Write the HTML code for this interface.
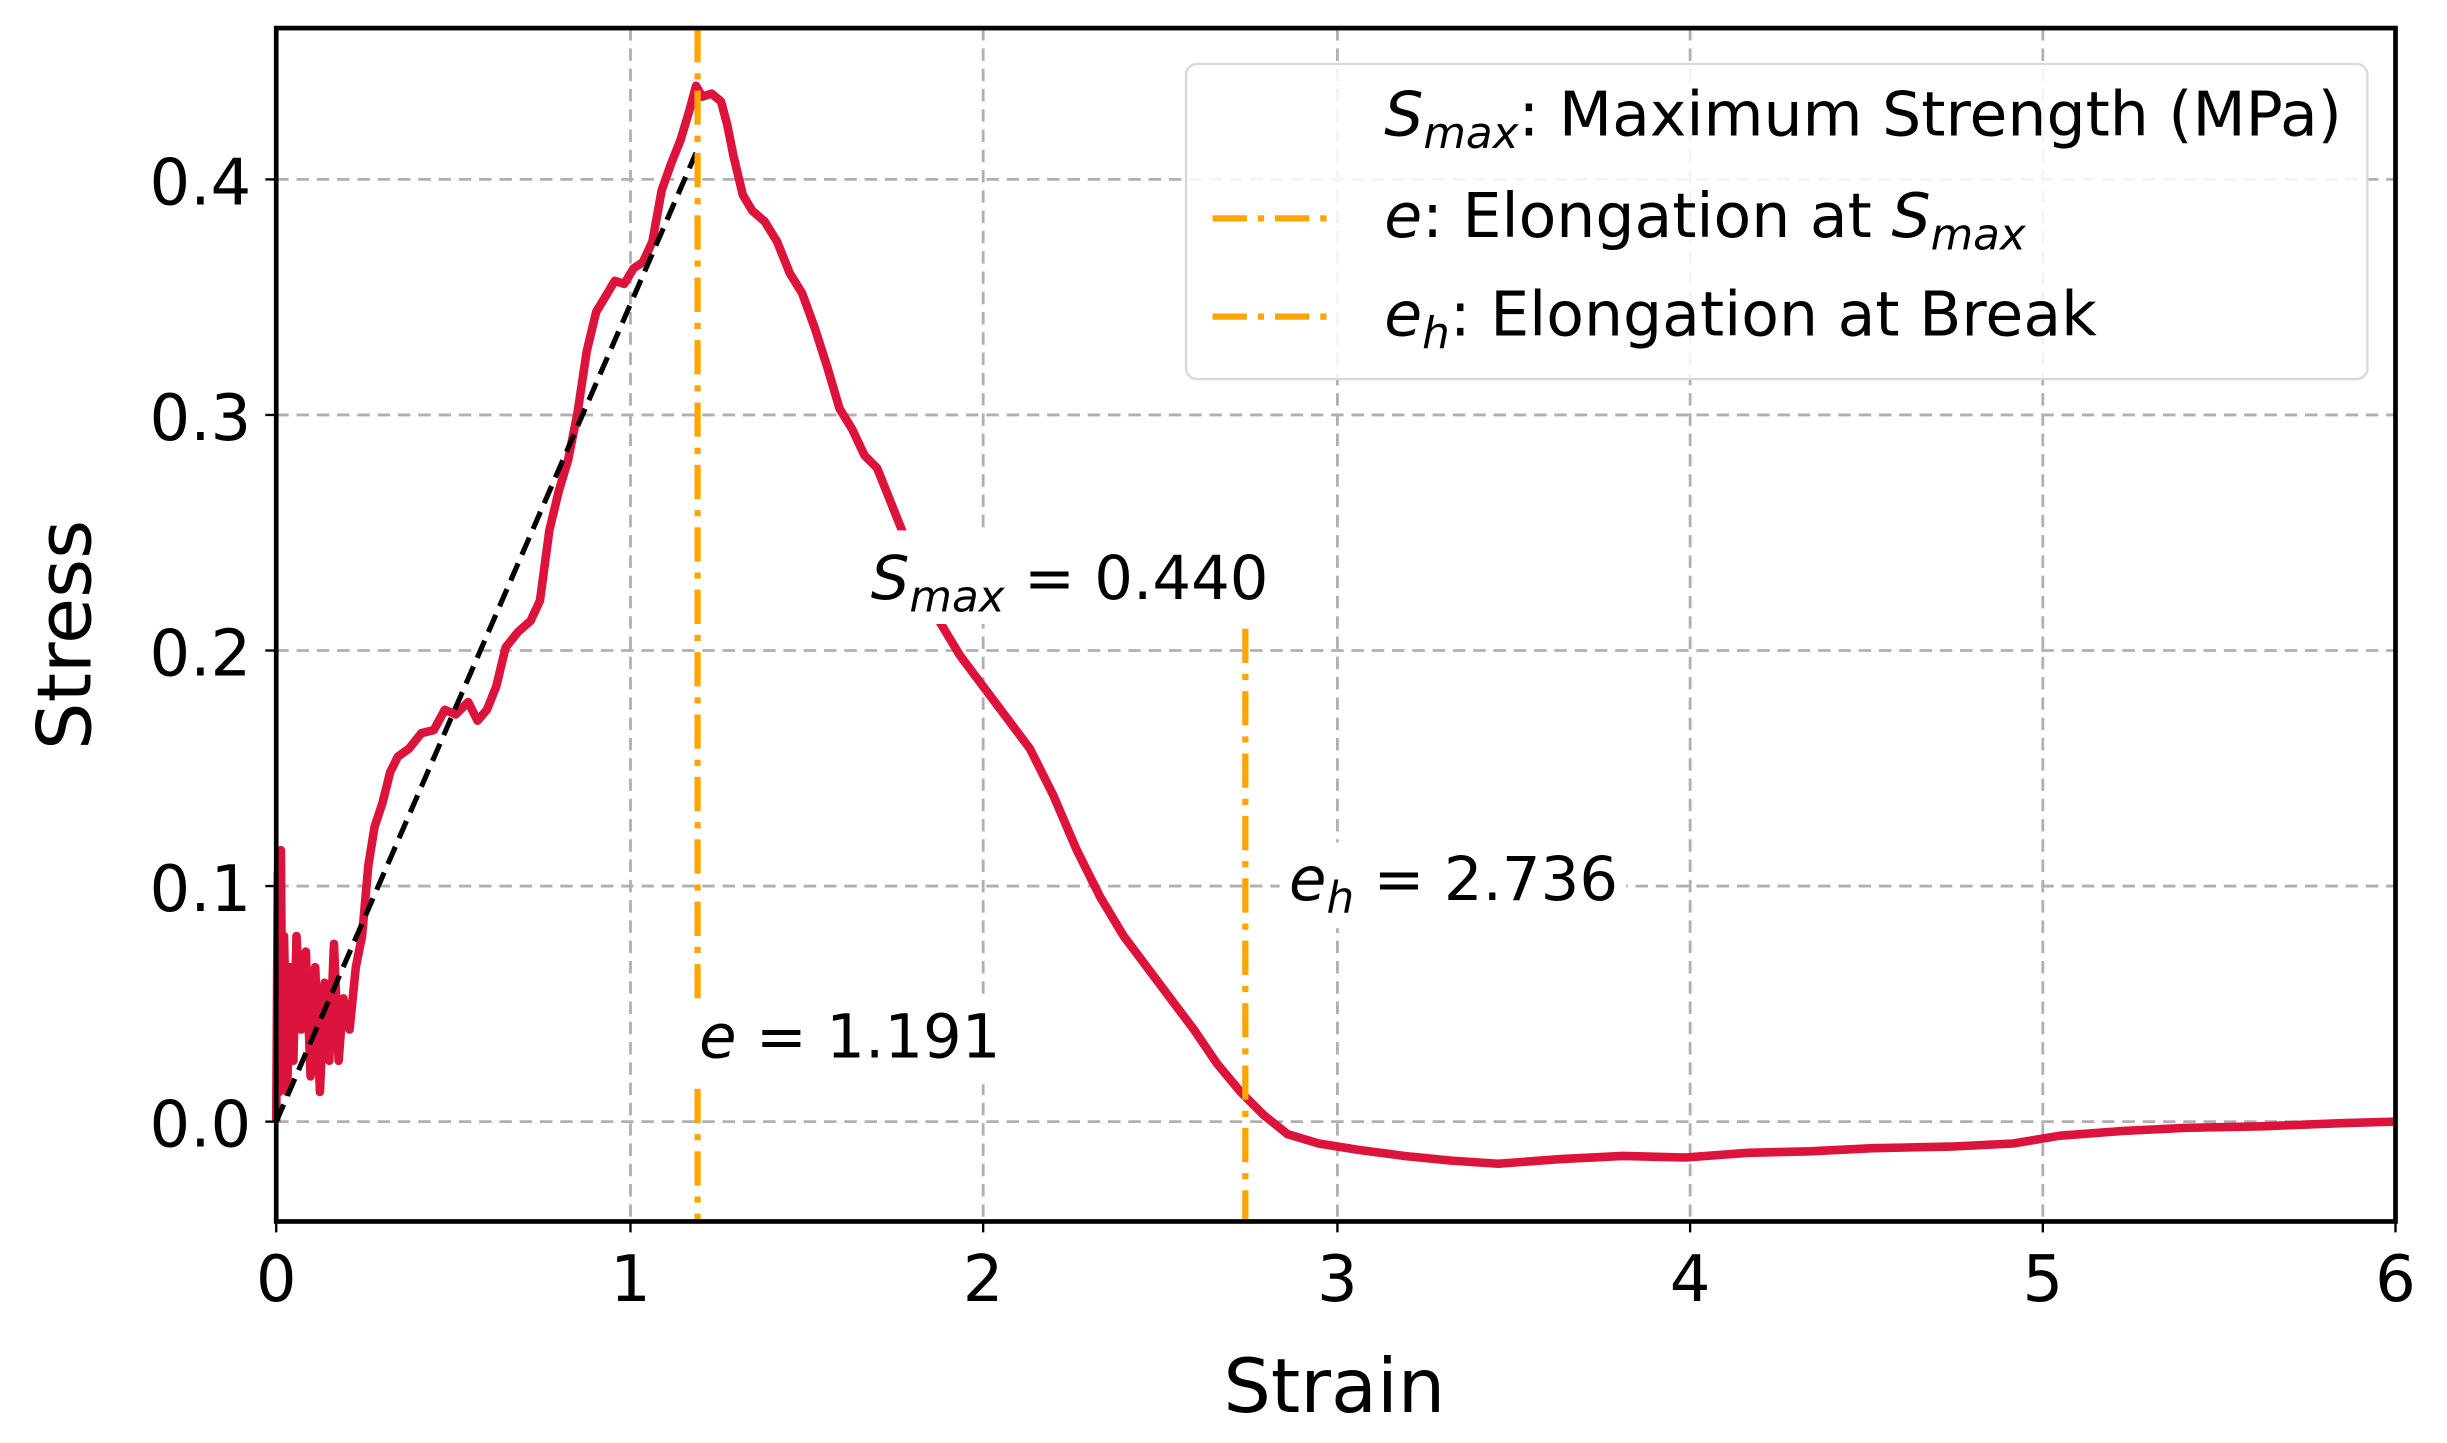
<!DOCTYPE html>
<html><head><meta charset="utf-8"><style>html,body{margin:0;padding:0;background:#fff}svg{display:block}</style></head>
<body>
<svg width="2447" height="1443" viewBox="0 0 1568 925" preserveAspectRatio="none" xmlns="http://www.w3.org/2000/svg" font-family="DejaVu Sans, Liberation Sans, sans-serif">
<rect width="1568" height="925" fill="#fff"/>
<g stroke="#b0b0b0" stroke-width="1.8" stroke-dasharray="8,5" fill="none">
<line x1="404" y1="18" x2="404" y2="783"/><line x1="630" y1="18" x2="630" y2="783"/><line x1="857" y1="18" x2="857" y2="783"/><line x1="1083" y1="18" x2="1083" y2="783"/><line x1="1309" y1="18" x2="1309" y2="783"/>
<line x1="177" y1="115" x2="1535" y2="115"/><line x1="177" y1="266" x2="1535" y2="266"/><line x1="177" y1="417" x2="1535" y2="417"/><line x1="177" y1="568" x2="1535" y2="568"/><line x1="177" y1="719" x2="1535" y2="719"/>
</g>
<polyline fill="none" stroke="#dc143c" stroke-width="5.5" stroke-linejoin="round" points="177,719 178,560 179,700 180,545 181,690 182,600 184,700 186,620 188,680 190,600 193,660 196,610 199,690 202,620 205,700 208,630 211,680 214,605 217,680 220,640 224,660 228,620 232,600 236,555 240,530 245,515 250,495 255,485 262,480 270,470 278,468 285,455 292,458 300,450 306,462 312,455 318,440 324,415 332,405 340,398 346,385 352,340 358,315 364,295 370,265 376,225 382,200 388,190 394,180 400,182 406,172 412,168 418,155 424,122 430,105 436,90 442,70 446,55 450,62 456,60 462,65 466,80 470,100 476,125 482,135 490,142 498,155 506,175 514,188 522,210 530,235 538,262 546,275 554,292 562,300 570,320 578,340 590,370 600,395 615,420 630,440 645,460 660,480 675,510 690,545 705,575 720,600 735,620 750,640 765,660 780,682 795,700 810,715 825,727 845,733 870,737 900,741 930,744 960,746 1000,743 1040,741 1080,742 1120,739 1160,738 1200,736 1250,735 1290,733 1320,728 1360,725 1400,723 1450,722 1500,720 1535,719"/>
<line x1="177" y1="719" x2="446" y2="98" stroke="#000" stroke-width="3.3" stroke-dasharray="12,6"/>
<g stroke="#ffa500" stroke-width="4" stroke-dasharray="22,7,4,7" fill="none">
<line x1="447" y1="18" x2="447" y2="783"/>
<line x1="798" y1="403" x2="798" y2="783"/>
</g>
<rect x="552" y="340" width="270" height="60" fill="#fff"/>
<rect x="442" y="640" width="205" height="55" fill="#fff"/>
<rect x="820" y="540" width="222" height="55" fill="#fff"/>
<g font-size="39" fill="#000">
<text x="558" y="384"><tspan font-style="italic">S</tspan><tspan font-style="italic" font-size="28" dy="8">max</tspan><tspan dy="-8"> = 0.440</tspan></text>
<text x="448" y="678"><tspan font-style="italic">e</tspan> = 1.191</text>
<text x="826" y="577"><tspan font-style="italic">e</tspan><tspan font-style="italic" font-size="28" dy="8">h</tspan><tspan dy="-8"> = 2.736</tspan></text>
</g>
<rect x="760" y="41" width="757" height="202" rx="7" fill="#fff" fill-opacity="0.85" stroke="#d9d9d9" stroke-width="1.5"/>
<g stroke="#ffa500" stroke-width="4" stroke-dasharray="22,7,4,7"><line x1="777" y1="140" x2="857" y2="140"/><line x1="777" y1="203" x2="857" y2="203"/></g>
<g font-size="39.5" fill="#000">
<text x="887" y="87"><tspan font-style="italic">S</tspan><tspan font-style="italic" font-size="28" dy="8">max</tspan><tspan dy="-8">: Maximum Strength (MPa)</tspan></text>
<text x="887" y="152"><tspan font-style="italic">e</tspan>: Elongation at <tspan font-style="italic">S</tspan><tspan font-style="italic" font-size="28" dy="8">max</tspan></text>
<text x="887" y="215"><tspan font-style="italic">e</tspan><tspan font-style="italic" font-size="28" dy="8">h</tspan><tspan dy="-8">: Elongation at Break</tspan></text>
</g>
<rect x="177" y="18" width="1358" height="765" fill="none" stroke="#000" stroke-width="3"/>
<g stroke="#000" stroke-width="1.5">
<line x1="177" y1="783" x2="177" y2="790"/><line x1="404" y1="783" x2="404" y2="790"/><line x1="630" y1="783" x2="630" y2="790"/><line x1="857" y1="783" x2="857" y2="790"/><line x1="1083" y1="783" x2="1083" y2="790"/><line x1="1309" y1="783" x2="1309" y2="790"/><line x1="1535" y1="783" x2="1535" y2="790"/>
<line x1="170" y1="115" x2="177" y2="115"/><line x1="170" y1="266" x2="177" y2="266"/><line x1="170" y1="417" x2="177" y2="417"/><line x1="170" y1="568" x2="177" y2="568"/><line x1="170" y1="719" x2="177" y2="719"/>
</g>
<g font-size="41" fill="#000" text-anchor="middle">
<text x="177" y="834">0</text><text x="404" y="834">1</text><text x="630" y="834">2</text><text x="857" y="834">3</text><text x="1083" y="834">4</text><text x="1309" y="834">5</text><text x="1535" y="834">6</text>
</g>
<g font-size="41" fill="#000" text-anchor="end">
<text x="161" y="131">0.4</text><text x="161" y="282">0.3</text><text x="161" y="433">0.2</text><text x="161" y="584">0.1</text><text x="161" y="735">0.0</text>
</g>
<text x="855" y="905" font-size="48" text-anchor="middle">Strain</text>
<text transform="translate(58,407) rotate(-90)" font-size="48" text-anchor="middle">Stress</text>
</svg>
</body></html>
